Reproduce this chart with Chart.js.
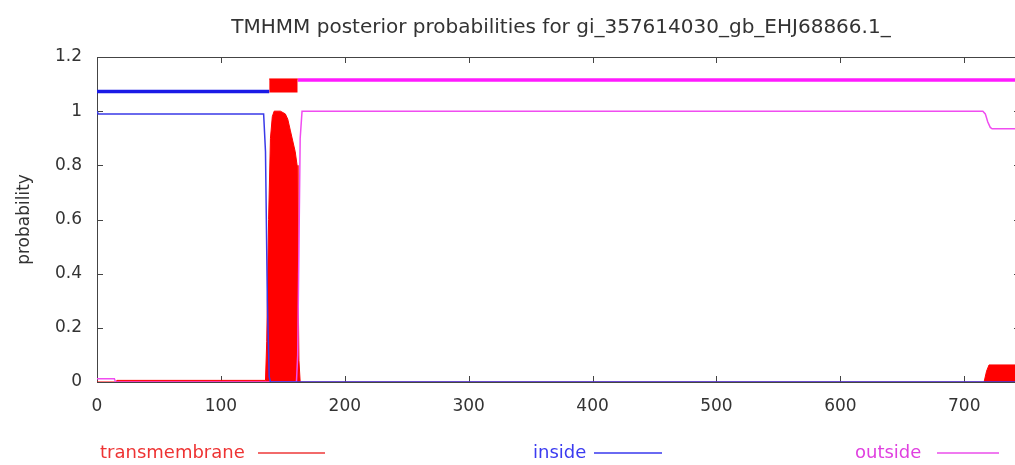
<!DOCTYPE html>
<html>
<head>
<meta charset="utf-8">
<script src="https://cdn.jsdelivr.net/npm/chart.js@4.4.1/dist/chart.umd.min.js"></script>
<style>
  html, body { margin: 0; padding: 0; background: #fff; overflow: hidden; }
  #wrap { position: relative; width: 1015px; height: 465px; overflow: hidden; }
  #box { position: absolute; left: 0; top: 0; width: 1030px; height: 465px; }
  .txt { position: absolute; font-family: "DejaVu Sans", sans-serif; white-space: nowrap; }
  #title { left: 561px; top: 16px; font-size: 20px; line-height: 20px; color: #333; transform: translateX(-50%); }
  .leg { font-size: 18px; line-height: 18px; top: 443px; }
  .legline { position: absolute; top: 452px; height: 0; border-top: 2px solid; }
</style>
</head>
<body>
<div id="wrap">
  <div id="box"><canvas id="tmhmm"></canvas></div>
  <div id="title" class="txt">TMHMM posterior probabilities for gi_357614030_gb_EHJ68866.1_</div>
  <div class="txt leg" style="left:100px; color:#ee3333;">transmembrane</div>
  <div class="legline" style="left:258px; width:67px; border-color:#f26a6a;"></div>
  <div class="txt leg" style="left:533px; color:#3b3bf0;">inside</div>
  <div class="legline" style="left:594px; width:68px; border-color:#6a6af2;"></div>
  <div class="txt leg" style="left:855px; color:#e040e0;">outside</div>
  <div class="legline" style="left:937px; width:62px; border-color:#f07af0;"></div>
</div>
<script>
// sequence positions (x) and posterior probabilities (y)
const seqLength = 745;
const xTicks = [0, 100, 200, 300, 400, 500, 600, 700];
const yTicks = [0, 0.2, 0.4, 0.6, 0.8, 1, 1.2];

const tmPos  = [0, 15, 16, 136, 137, 138.5, 140, 141.5, 143, 148, 152, 154, 156, 158, 160, 161.5, 162.2, 163, 164, 716, 718, 720, 745];
const tmProb = [0, 0, 0.006, 0.006, 0.15, 0.6, 0.9, 0.98, 1.0, 1.0, 0.99, 0.97, 0.93, 0.89, 0.85, 0.8, 0.4, 0.08, 0, 0, 0.04, 0.063, 0.063];

const insidePos  = [0, 1, 134.5, 136, 137.5, 139, 140, 745];
const insideProb = [1.0, 0.99, 0.99, 0.85, 0.3, 0.02, 0, 0];

const outsidePos  = [0, 14, 15, 161, 162, 163, 164, 165.5, 715, 717, 719, 721, 722.5, 745];
const outsideProb = [0.012, 0.012, 0, 0, 0.1, 0.5, 0.9, 1.0, 1.0, 0.99, 0.96, 0.94, 0.935, 0.935];

// predicted topology drawn above the curves
const topInsidePos = [0, 139];
const topTmPos = [139, 162];
const topOutsidePos = [162, 745];
const topInsideLevel = 1.073;
const topOutsideLevel = 1.115;
const topTmLow = 1.069;
const topTmHigh = 1.119;

function pts(xs, ys) {
  return xs.map((x, i) => ({ x: x, y: ys[i] }));
}
function flat(xs, y) {
  return xs.map(x => ({ x: x, y: y }));
}

// gnuplot-like frame with ticks pointing inward
const framePlugin = {
  id: 'frame',
  beforeDatasetsDraw(chart) {
    const { ctx, chartArea: a, scales } = chart;
    ctx.save();
    ctx.strokeStyle = '#444';
    ctx.lineWidth = 1;
    ctx.beginPath();
    ctx.rect(a.left + 0.5, a.top + 0.5, a.right - a.left, a.bottom - a.top);
    const t = 6;
    xTicks.forEach(v => {
      const px = Math.round(scales.x.getPixelForValue(v)) + 0.5;
      ctx.moveTo(px, a.bottom); ctx.lineTo(px, a.bottom - t);
      ctx.moveTo(px, a.top); ctx.lineTo(px, a.top + t);
    });
    yTicks.forEach(v => {
      const py = Math.round(scales.y.getPixelForValue(v)) + 0.5;
      ctx.moveTo(a.left, py); ctx.lineTo(a.left + t, py);
      ctx.moveTo(a.right, py); ctx.lineTo(a.right - t, py);
    });
    ctx.stroke();
    ctx.restore();
  }
};

const ctx = document.getElementById('tmhmm').getContext('2d');
new Chart(ctx, {
  type: 'line',
  data: {
    datasets: [
      {
        label: 'inside',
        data: pts(insidePos, insideProb),
        borderColor: '#3a3ae8',
        borderWidth: 1.5,
        pointRadius: 0,
        fill: false,
        order: 1
      },
      {
        label: 'outside',
        data: pts(outsidePos, outsideProb),
        borderColor: '#f04cf0',
        borderWidth: 1.5,
        pointRadius: 0,
        fill: false,
        order: 2
      },
      {
        label: 'transmembrane',
        data: pts(tmPos, tmProb),
        borderColor: '#ff0000',
        backgroundColor: '#ff0000',
        borderWidth: 1,
        pointRadius: 0,
        fill: 'origin',
        order: 3
      },
      {
        label: 'inside (topology)',
        data: flat(topInsidePos, topInsideLevel),
        borderColor: '#1a1ae6',
        borderWidth: 3.5,
        pointRadius: 0,
        fill: false,
        order: 4
      },
      {
        label: 'transmembrane (topology)',
        data: flat(topTmPos, topTmHigh),
        borderColor: '#ff0000',
        backgroundColor: '#ff0000',
        borderWidth: 1,
        pointRadius: 0,
        fill: { value: topTmLow },
        order: 5
      },
      {
        label: 'outside (topology)',
        data: flat(topOutsidePos, topOutsideLevel),
        borderColor: '#ff1aff',
        borderWidth: 3.5,
        pointRadius: 0,
        fill: false,
        order: 6
      }
    ]
  },
  options: {
    responsive: true,
    maintainAspectRatio: false,
    animation: false,
    layout: { padding: { top: 57, right: 10, left: 0, bottom: 0 } },
    plugins: {
      legend: { display: false },
      title: { display: false },
      tooltip: { enabled: false }
    },
    scales: {
      x: {
        type: 'linear',
        min: 0,
        max: seqLength,
        grid: { display: false, drawTicks: false },
        border: { display: false },
        ticks: {
          stepSize: 100,
          includeBounds: false,
          padding: 14,
          color: '#333',
          font: { family: 'DejaVu Sans', size: 17 }
        },
        afterFit(scale) { scale.height = 83; }
      },
      y: {
        min: 0,
        max: 1.2,
        grid: { display: false, drawTicks: false },
        border: { display: false },
        ticks: {
          stepSize: 0.2,
          padding: 15,
          color: '#333',
          font: { family: 'DejaVu Sans', size: 17 },
          callback: v => String(Number(v.toFixed(1)))
        },
        title: {
          display: true,
          text: 'probability',
          color: '#333',
          padding: { top: 14, bottom: 0 },
          font: { family: 'DejaVu Sans', size: 17 }
        },
        afterFit(scale) { scale.width = 97; }
      }
    }
  },
  plugins: [framePlugin]
});
</script>
</body>
</html>
